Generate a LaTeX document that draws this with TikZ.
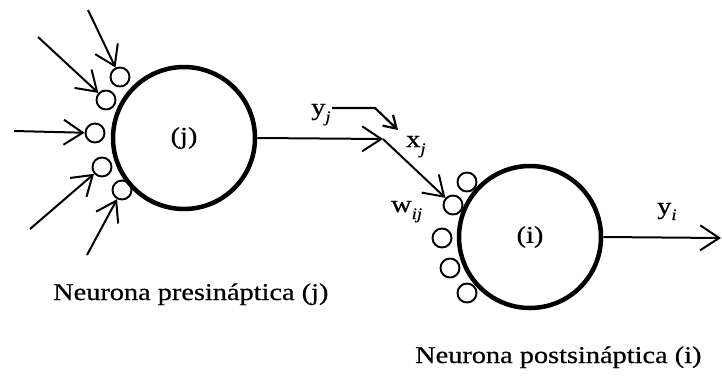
\documentclass[tikz,border=0pt]{standalone}
\usepackage{fontspec}
\setmainfont[FakeStretch=1.18,FakeBold=0.6]{Liberation Serif}
\usetikzlibrary{arrows.meta}
\tikzset{
  neuron/.style={circle, draw, line width=4.5pt, minimum size=142pt, inner sep=0pt, fill=white},
  syn/.style={circle, draw, line width=1.9pt, minimum size=19pt, inner sep=0pt, fill=white},
  arr/.style={line width=2pt, -{Straight Barb[length=19pt,width=25pt,line width=2pt]}},
  smallarr/.style={line width=2.2pt, -{Straight Barb[length=12pt,width=15pt,line width=2.2pt]}},
  lbl/.style={inner sep=0pt, anchor=base west, font=\fontsize{24}{28}\selectfont},
  sub/.style={font=\fontsize{16}{16}\selectfont\itshape}
}
\begin{document}
\begin{tikzpicture}[x=1pt,y=-1pt]
\useasboundingbox (0,0) rectangle (722,375);
% synapses of j
\node[syn] (sj1) at (120,77) {};
\node[syn] (sj2) at (106,100) {};
\node[syn] (sj3) at (95,133) {};
\node[syn] (sj4) at (102,167) {};
\node[syn] (sj5) at (122,190) {};
% synapses of i
\node[syn] (si1) at (467,182) {};
\node[syn] (si2) at (453,205) {};
\node[syn] (si3) at (442,238) {};
\node[syn] (si4) at (450,268) {};
\node[syn] (si5) at (467,293) {};
% neurons
\node[neuron, font=\fontsize{24}{28}\selectfont] (j) at (184,138) {(j)};
\node[neuron, font=\fontsize{24}{28}\selectfont] (i) at (530,237) {(i)};
% inputs to j
\coordinate (a1) at (88,10);
\coordinate (a2) at (38,37);
\coordinate (a3) at (14,131);
\coordinate (a4) at (30,229);
\coordinate (a5) at (87,255);
\draw[arr] (a1) -- (sj1);
\draw[arr] (a2) -- (sj2);
\draw[arr] (a3) -- (sj3);
\draw[arr] (a4) -- (sj4);
\draw[arr] (a5) -- (sj5);
% output of j to synapse of i
\coordinate (bp) at (383,139);
\draw[arr] (j.east) -- (bp);
\draw[arr] (bp) -- (si2);
% y_j -> x_j marker arrow
\coordinate (m1) at (332,108);
\coordinate (m2) at (375,108);
\coordinate (m3) at (398,130);
\draw[smallarr] (m1) -- (m2) -- (m3);
% output of i
\coordinate (out) at (721,238);
\draw[arr] (i.east) -- (out);
% labels
\node[lbl] (yj) at (311,115) {y\raisebox{-7pt}{\fontsize{16}{16}\selectfont\itshape j}};
\node[lbl] (xj) at (406,147) {x\raisebox{-7pt}{\fontsize{16}{16}\selectfont\itshape j}};
\node[lbl] (wij) at (391,212) {w\raisebox{-7pt}{\fontsize{16}{16}\selectfont\itshape ij}};
\node[lbl] (yi) at (657,214) {y\raisebox{-6pt}{\fontsize{16}{16}\selectfont\itshape i}};
\node[lbl] (pre) at (53,300) {Neurona presináptica (j)};
\node[lbl] (post) at (415,363) {Neurona postsináptica (i)};
\end{tikzpicture}
\end{document}
